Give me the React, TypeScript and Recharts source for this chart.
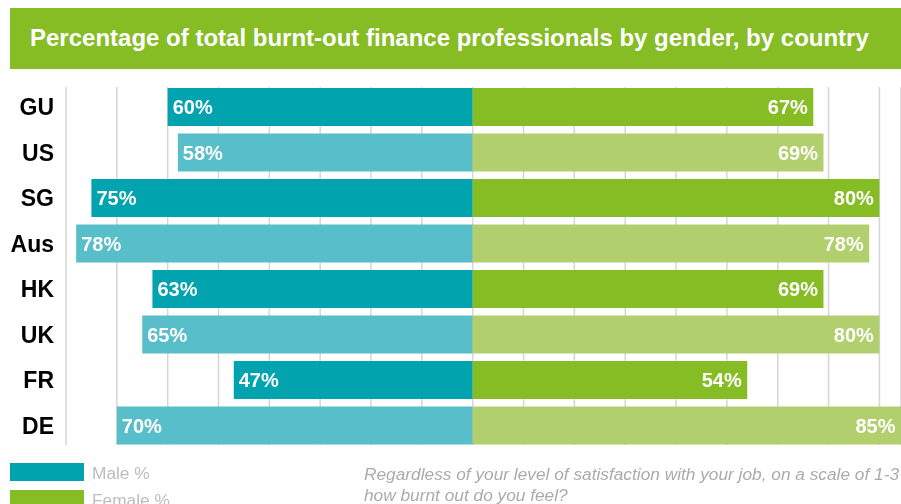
import React from "react";
import { BarChart, Bar, XAxis, YAxis, CartesianGrid } from "recharts";

const countries = ["GU", "US", "SG", "Aus", "HK", "UK", "FR", "DE"];
const maleValues = [60, 58, 75, 78, 63, 65, 47, 70];
const femaleValues = [67, 69, 80, 78, 69, 80, 54, 85];
const gridTicks = [-80, -70, -60, -50, -40, -30, -20, -10, 0, 10, 20, 30, 40, 50, 60, 70, 80];

const title = "Percentage of total burnt-out finance professionals by gender, by country";
const legendMale = "Male %";
const legendFemale = "Female %";
const noteLine1 = "Regardless of your level of satisfaction with your job, on a scale of 1-3";
const noteLine2 = "how burnt out do you feel?";

const MALE_DARK = "#00a3ae";
const MALE_LIGHT = "#58bec9";
const FEMALE_DARK = "#86bc24";
const FEMALE_LIGHT = "#b1cf6c";
const FONT = "'Liberation Sans', Arial, Helvetica, sans-serif";

const data = countries.map((c, i) => ({
  country: c,
  maleNeg: -maleValues[i],
  female: femaleValues[i],
}));

const makeShape = (side: "male" | "female") => (props: any) => {
  const { x, y, width, height, index } = props;
  const left = Math.min(x, x + width);
  const w = Math.abs(width);
  const dark = index % 2 === 0;
  const fill =
    side === "male" ? (dark ? MALE_DARK : MALE_LIGHT) : dark ? FEMALE_DARK : FEMALE_LIGHT;
  const val = side === "male" ? maleValues[index] : femaleValues[index];
  const tx = side === "male" ? left + 5 : left + w - 5.5;
  return (
    <g>
      <rect x={left} y={y} width={w} height={height} fill={fill} />
      <text
        x={tx}
        y={y + height / 2}
        dy="0.36em"
        textAnchor={side === "male" ? "start" : "end"}
        fill="#ffffff"
        fontFamily={FONT}
        fontWeight="bold"
        fontSize={20}
      >
        {val + "%"}
      </text>
    </g>
  );
};

const CategoryTick = (props: any) => {
  const { x, y, payload } = props;
  return (
    <text
      x={x}
      y={y}
      dy="0.36em"
      textAnchor="end"
      fill="#000000"
      fontFamily={FONT}
      fontWeight="bold"
      fontSize={23}
    >
      {payload.value}
    </text>
  );
};

export default function App() {
  return (
    <div
      style={{
        position: "fixed",
        left: 8,
        top: 8,
        width: 893,
        height: 496,
        fontFamily: FONT,
        overflow: "hidden",
      }}
    >
      <div
        style={{
          position: "absolute",
          left: 2,
          top: 0,
          width: 891,
          height: 61,
          background: FEMALE_DARK,
        }}
      >
        <div
          style={{
            position: "absolute",
            left: 20,
            top: 1,
            lineHeight: "57px",
            fontSize: 24,
            fontWeight: "bold",
            color: "#ffffff",
            whiteSpace: "nowrap",
          }}
        >
          {title}
        </div>
      </div>
      <div style={{ position: "absolute", left: 0, top: 0 }}>
        <BarChart
          layout="vertical"
          width={893}
          height={496}
          data={data}
          margin={{ top: 76, right: 0, bottom: 56, left: 0 }}
          stackOffset="sign"
          barSize={38}
        >
          <CartesianGrid horizontal={false} stroke="#d6d6d6" strokeWidth={1.5} y={79} height={358} />
          <XAxis type="number" domain={[-80, 84.25]} allowDataOverflow ticks={gridTicks} hide />
          <YAxis
            type="category"
            dataKey="country"
            width={58}
            axisLine={false}
            tickLine={false}
            tickSize={0}
            tickMargin={12}
            tick={<CategoryTick />}
          />
          <Bar dataKey="maleNeg" stackId="a" isAnimationActive={false} shape={makeShape("male")} />
          <Bar dataKey="female" stackId="a" isAnimationActive={false} shape={makeShape("female")} />
        </BarChart>
      </div>
      <div style={{ position: "absolute", left: 2, top: 455, width: 74, height: 18, background: MALE_DARK }} />
      <div style={{ position: "absolute", left: 2, top: 482, width: 74, height: 18, background: FEMALE_DARK }} />
      <div
        style={{
          position: "absolute",
          left: 84,
          top: 454,
          fontSize: 17.3,
          lineHeight: "22px",
          color: "#bdbdbd",
          whiteSpace: "nowrap",
        }}
      >
        {legendMale}
      </div>
      <div
        style={{
          position: "absolute",
          left: 84,
          top: 481,
          fontSize: 17.3,
          lineHeight: "22px",
          color: "#bdbdbd",
          whiteSpace: "nowrap",
        }}
      >
        {legendFemale}
      </div>
      <div
        style={{
          position: "absolute",
          left: 356,
          top: 456,
          fontSize: 17.3,
          lineHeight: "21px",
          fontStyle: "italic",
          color: "#ababab",
          whiteSpace: "nowrap",
        }}
      >
        <div>{noteLine1}</div>
        <div>{noteLine2}</div>
      </div>
    </div>
  );
}
